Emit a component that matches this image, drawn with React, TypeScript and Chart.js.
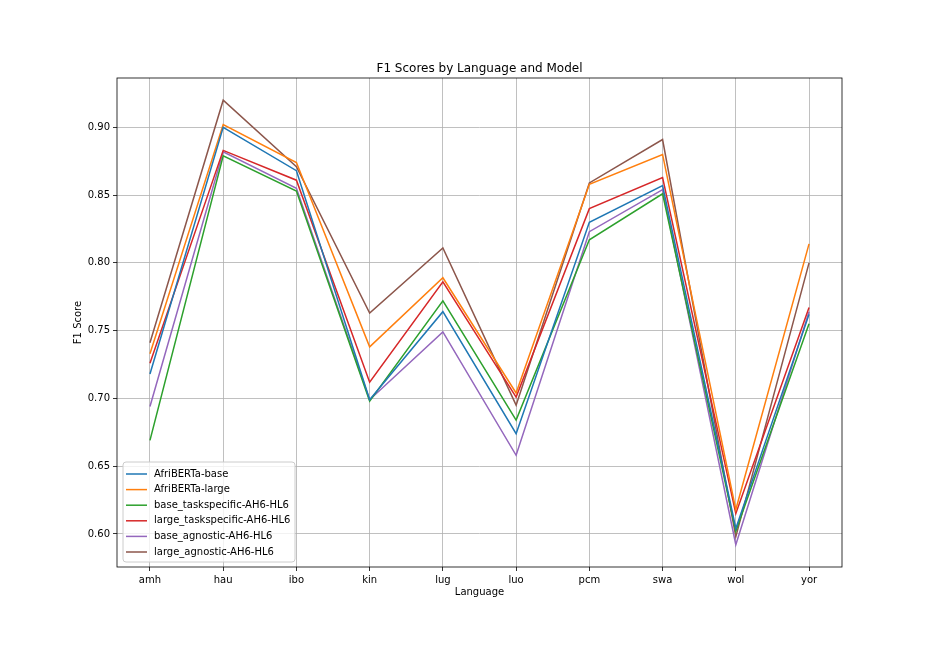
import React, { useEffect, useRef } from "react";
import { Chart, registerables } from "chart.js";

Chart.register(...registerables);

const languages = ["amh", "hau", "ibo", "kin", "lug", "luo", "pcm", "swa", "wol", "yor"];
const seriesNames = [
  "AfriBERTa-base",
  "AfriBERTa-large",
  "base_taskspecific-AH6-HL6",
  "large_taskspecific-AH6-HL6",
  "base_agnostic-AH6-HL6",
  "large_agnostic-AH6-HL6",
];
const afribertaBase = [0.718, 0.900, 0.868, 0.699, 0.764, 0.674, 0.830, 0.857, 0.604, 0.762];
const afribertaLarge = [0.733, 0.902, 0.874, 0.738, 0.789, 0.704, 0.858, 0.880, 0.618, 0.814];
const baseTaskspecific = [0.669, 0.879, 0.853, 0.698, 0.772, 0.684, 0.817, 0.851, 0.602, 0.755];
const largeTaskspecific = [0.726, 0.883, 0.861, 0.712, 0.786, 0.701, 0.840, 0.863, 0.615, 0.767];
const baseAgnostic = [0.694, 0.882, 0.855, 0.699, 0.749, 0.658, 0.823, 0.854, 0.592, 0.764];
const largeAgnostic = [0.741, 0.920, 0.871, 0.763, 0.811, 0.695, 0.859, 0.891, 0.598, 0.800];
const yTicks = [0.6, 0.65, 0.7, 0.75, 0.8, 0.85, 0.9];
const colors = ["#1f77b4", "#ff7f0e", "#2ca02c", "#d62728", "#9467bd", "#8c564b"];

const allSeries = [afribertaBase, afribertaLarge, baseTaskspecific, largeTaskspecific, baseAgnostic, largeAgnostic];

const FONT = "'DejaVu Sans', sans-serif";

const decorPlugin = {
  id: "decor",
  afterDatasetsDraw(chart: any) {
    const { ctx, chartArea } = chart;
    const { left, right, top, bottom } = chartArea;
    ctx.save();
    // spines
    ctx.strokeStyle = "#000";
    ctx.lineWidth = 0.8;
    ctx.strokeRect(left, top, right - left, bottom - top);

    // legend
    const lx = left + 6;
    const ly = bottom - 105;
    const lw = 172;
    const lh = 100;
    const r = 3;
    ctx.beginPath();
    ctx.moveTo(lx + r, ly);
    ctx.lineTo(lx + lw - r, ly);
    ctx.quadraticCurveTo(lx + lw, ly, lx + lw, ly + r);
    ctx.lineTo(lx + lw, ly + lh - r);
    ctx.quadraticCurveTo(lx + lw, ly + lh, lx + lw - r, ly + lh);
    ctx.lineTo(lx + r, ly + lh);
    ctx.quadraticCurveTo(lx, ly + lh, lx, ly + lh - r);
    ctx.lineTo(lx, ly + r);
    ctx.quadraticCurveTo(lx, ly, lx + r, ly);
    ctx.closePath();
    ctx.fillStyle = "rgba(255,255,255,0.8)";
    ctx.fill();
    ctx.strokeStyle = "#cccccc";
    ctx.lineWidth = 1;
    ctx.stroke();

    ctx.font = `10px ${FONT}`;
    ctx.textBaseline = "middle";
    ctx.textAlign = "left";
    seriesNames.forEach((name, i) => {
      const yy = ly + 12 + i * 15.6;
      ctx.strokeStyle = colors[i];
      ctx.lineWidth = 1.5;
      ctx.beginPath();
      ctx.moveTo(lx + 3, yy);
      ctx.lineTo(lx + 24, yy);
      ctx.stroke();
      ctx.fillStyle = "#000";
      ctx.fillText(name, lx + 31, yy);
    });
    ctx.restore();
  },
  afterDraw(chart: any) {
    const { ctx, chartArea } = chart;
    const { left, right, top, bottom } = chartArea;
    ctx.save();
    ctx.fillStyle = "#000";
    ctx.textAlign = "center";
    ctx.textBaseline = "alphabetic";
    ctx.font = `12px ${FONT}`;
    ctx.fillText("F1 Scores by Language and Model", (left + right) / 2, top - 6);
    ctx.font = `10px ${FONT}`;
    ctx.textBaseline = "middle";
    ctx.fillText("Language", (left + right) / 2, bottom + 25);
    ctx.translate(left - 39, (top + bottom) / 2);
    ctx.rotate(-Math.PI / 2);
    ctx.fillText("F1 Score", 0, 0);
    ctx.restore();
  },
};

export default function App() {
  const ref = useRef<HTMLCanvasElement>(null);
  useEffect(() => {
    if (!ref.current) return;
    const chart = new Chart(ref.current, {
      type: "line",
      data: {
        datasets: allSeries.map((vals, i) => ({
          label: seriesNames[i],
          data: vals.map((v, j) => ({ x: j, y: v })),
          borderColor: colors[i],
          backgroundColor: colors[i],
          borderWidth: 1.5,
          pointRadius: 0,
          tension: 0,
          fill: false,
        })),
      },
      options: {
        responsive: false,
        animation: false,
        events: [],
        layout: { padding: { top: 78, right: 94, left: 0, bottom: 0 } },
        plugins: { legend: { display: false }, title: { display: false }, tooltip: { enabled: false } },
        scales: {
          x: {
            type: "linear",
            min: -0.45,
            max: 9.45,
            afterBuildTicks: (scale: any) => {
              scale.ticks = languages.map((_, i) => ({ value: i }));
            },
            afterFit: (scale: any) => {
              scale.height = 81;
            },
            grid: { color: "#b0b0b0", lineWidth: 0.8, tickColor: "#000", tickLength: 4, tickWidth: 0.8 },
            border: { display: false },
            ticks: {
              color: "#000",
              font: { family: FONT, size: 10 },
              padding: 3,
              maxRotation: 0,
              autoSkip: false,
              callback: (v: any) => languages[Math.round(Number(v))] ?? "",
            },
          },
          y: {
            type: "linear",
            min: 0.5756,
            max: 0.9364,
            afterBuildTicks: (scale: any) => {
              scale.ticks = yTicks.map((v) => ({ value: v }));
            },
            afterFit: (scale: any) => {
              scale.width = 117;
            },
            grid: { color: "#b0b0b0", lineWidth: 0.8, tickColor: "#000", tickLength: 4, tickWidth: 0.8 },
            border: { display: false },
            ticks: {
              color: "#000",
              font: { family: FONT, size: 10 },
              padding: 3,
              autoSkip: false,
              callback: (v: any) => Number(v).toFixed(2),
            },
          },
        },
      },
      plugins: [decorPlugin],
    } as any);
    return () => chart.destroy();
  }, []);
  return (
    <div style={{ position: "fixed", left: 0, top: 0, width: 936, height: 648, background: "#fff" }}>
      <canvas ref={ref} width={936} height={648} style={{ width: 936, height: 648, display: "block" }} />
    </div>
  );
}
